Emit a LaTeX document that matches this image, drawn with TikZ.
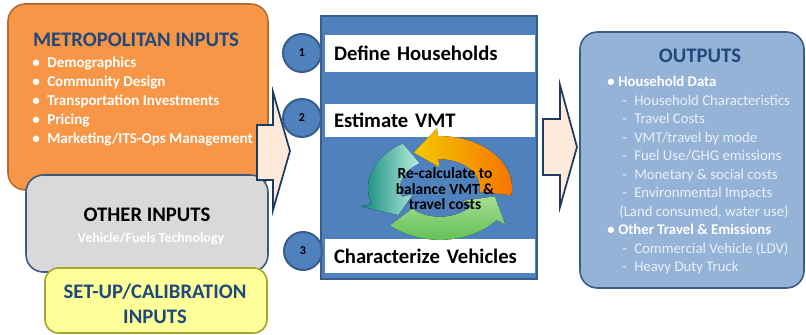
\documentclass[tikz,border=0pt]{standalone}
\usepackage{fontspec}
\setmainfont{Carlito}
\usetikzlibrary{positioning,calc}

\definecolor{metroorange}{HTML}{F79646}
\definecolor{metroline}{HTML}{B66D31}
\definecolor{headblue}{HTML}{1F497D}
\definecolor{othergray}{HTML}{D9D9D9}
\definecolor{otherline}{HTML}{3C5A7E}
\definecolor{setupyellow}{HTML}{FFFF99}
\definecolor{setupline}{HTML}{A5A530}
\definecolor{stepblue}{HTML}{4F81BD}
\definecolor{stepline}{HTML}{385D8A}
\definecolor{outblue}{HTML}{95B3D7}
\definecolor{outtext}{HTML}{EAF0F7}
\definecolor{arrowfill}{HTML}{FDEADA}
\definecolor{arrowline}{HTML}{1F3A5F}
\definecolor{cycyellow}{HTML}{F5C800}
\definecolor{cycorange}{HTML}{F57300}
\definecolor{cyclight}{HTML}{B8EEDF}
\definecolor{cycteal}{HTML}{10887A}
\definecolor{cycgreen}{HTML}{5DBE55}
\definecolor{cycpale}{HTML}{A6DE90}

\tikzset{
  inbox/.style={draw, rounded corners=13pt, line width=1.2pt, inner sep=0pt},
  stepbar/.style={fill=white, minimum width=157.5pt, text width=144pt, align=left,
    inner xsep=6.75pt, inner ysep=0pt, font=\bfseries\fontsize{15.5}{18}\selectfont},
  stepnum/.style={circle, draw=stepline, fill=stepblue, line width=1.5pt,
    minimum size=28.5pt, inner sep=0pt, font=\bfseries\fontsize{9}{9}\selectfont},
  blockarrow/.style={draw=arrowline, fill=arrowfill, line width=1.3pt},
  heading/.style={font=\bfseries\fontsize{15.5}{19}\selectfont, text=headblue, inner sep=0pt},
}
\newcommand{\blt}{\makebox[11.25pt][l]{\textbullet}}
\newcommand{\outbullet}{\makebox[8.25pt][l]{\textbullet}}
\newcommand{\outdash}{\hspace*{11.25pt}\makebox[9pt][l]{-}}
% one arrow of the cycle: options, tail angle, head base angle, tip angle
\newcommand{\cyclearrow}[4]{%
  \fill[#1] (#2:72) arc[start angle=#2, end angle=#3, radius=72] -- (#3:83)
    -- (#4:56) -- (#3:29) -- (#3:40) arc[start angle=#3, end angle=#2, radius=40] -- cycle;}

\begin{document}
\begin{tikzpicture}[x=0.75pt,y=-0.75pt]
  \useasboundingbox (0,0) rectangle (806,335);

  %%%%%%%%%%%%%%%%%%%%%%%%%%%%%%%%%%%%%%%%%%%%%%%%%%%%%%%%%%%%%%
  %                    INPUTS                                  %
  %%%%%%%%%%%%%%%%%%%%%%%%%%%%%%%%%%%%%%%%%%%%%%%%%%%%%%%%%%%%%%

  \node [inbox, draw=metroline, fill=metroorange,
    minimum width=195pt, minimum height=139.5pt] (metro) at (138,97) {};
  \node [inbox, draw=otherline, fill=othergray,
    minimum width=181.5pt, minimum height=72.75pt] (other) at (147,223.5) {};
  \node [inbox, draw=setupline, fill=setupyellow, rounded corners=10pt,
    minimum width=166.5pt, minimum height=48.75pt] (setup) at (156,300.5) {};

  \draw [blockarrow] (257,125) -- (273,125) -- (273,92) -- (290,151)
    -- (273,210) -- (273,180) -- (257,180) -- cycle;

  \node [heading] (metro-header) at (136,40) {METROPOLITAN INPUTS};
  \node [anchor=north west, inner sep=0pt, align=left, text=white,
    font=\bfseries\fontsize{11.3}{14.25}\selectfont] (metro-list) at (32,57) {
    \blt Demographics\\
    \blt Community Design\\
    \blt Transportation Investments\\
    \blt Pricing\\
    \blt Marketing/ITS-Ops Management
  };

  \node [heading, text=black] (other-header) at (147,215) {OTHER INPUTS};
  \node [anchor=base, inner sep=0pt, text=white,
    font=\bfseries\fontsize{10.5}{12}\selectfont] (other-list) at (151,242) {Vehicle/Fuels Technology};

  \node [heading, align=center] (setup-header) at (155,303.5) {SET-UP/CALIBRATION\\INPUTS};

  %%%%%%%%%%%%%%%%%%%%%%%%%%%%%%%%%%%%%%%%%%%%%%%%%%%%%%%%%%%%%%
  %                    MODEL STEPS                             %
  %%%%%%%%%%%%%%%%%%%%%%%%%%%%%%%%%%%%%%%%%%%%%%%%%%%%%%%%%%%%%%

  \node [draw=stepline, fill=stepblue, line width=1.8pt,
    minimum width=162pt, minimum height=197.25pt] (engine) at (429,147.5) {};

  \node [stepbar, minimum height=27.75pt] (households) at (430,53.5) {Define Households};
  \node [stepbar, minimum height=24.75pt] (vmt) at (430,120.5) {Estimate VMT};
  \node [stepbar, minimum height=25.5pt] (vehicles) at (430,256) {Characterize Vehicles};

  \node [stepnum] (num-1) at (302,53) {1};
  \node [stepnum] (num-2) at (302,118) {2};
  \node [stepnum] (num-3) at (303,251) {3};

  \begin{scope}[shift={(440,188)}, yscale=-0.72]
    \cyclearrow{left color=cycyellow, right color=cycorange}{-8}{92}{118}
    \cyclearrow{left color=cycteal, right color=cyclight}{121}{198}{222}
    \cyclearrow{top color=cycpale, bottom color=cycgreen}{226}{322}{348}
  \end{scope}
  \node [align=center, inner sep=0pt,
    font=\bfseries\fontsize{11.6}{11.6}\selectfont] (recalc) at (445,189) {Re-calculate to\\balance VMT \&\\travel costs};

  %%%%%%%%%%%%%%%%%%%%%%%%%%%%%%%%%%%%%%%%%%%%%%%%%%%%%%%%%%%%%%
  %                    OUTPUTS                                 %
  %%%%%%%%%%%%%%%%%%%%%%%%%%%%%%%%%%%%%%%%%%%%%%%%%%%%%%%%%%%%%%

  \draw [blockarrow] (543,119) -- (560,119) -- (560,85) -- (577,147)
    -- (560,207) -- (560,175) -- (543,175) -- cycle;

  \node [inbox, draw=stepline, fill=outblue,
    minimum width=168pt, minimum height=192pt] (outputs) at (692,160) {};
  \node [heading] (outputs-header) at (700,55.5) {OUTPUTS};
  \node [anchor=north west, inner sep=0pt, align=left, text=outtext,
    font=\fontsize{11.1}{13.9}\selectfont] (outputs-list) at (607,76) {
    {\color{white}\bfseries\outbullet Household Data}\\
    \outdash Household Characteristics\\
    \outdash Travel Costs\\
    \outdash VMT/travel by mode\\
    \outdash Fuel Use/GHG emissions\\
    \outdash Monetary \& social costs\\
    \outdash Environmental Impacts\\
    \hspace*{9pt}(Land consumed, water use)\\
    {\color{white}\bfseries\outbullet Other Travel \& Emissions}\\
    \outdash Commercial Vehicle (LDV)\\
    \outdash Heavy Duty Truck
  };

\end{tikzpicture}
\end{document}
